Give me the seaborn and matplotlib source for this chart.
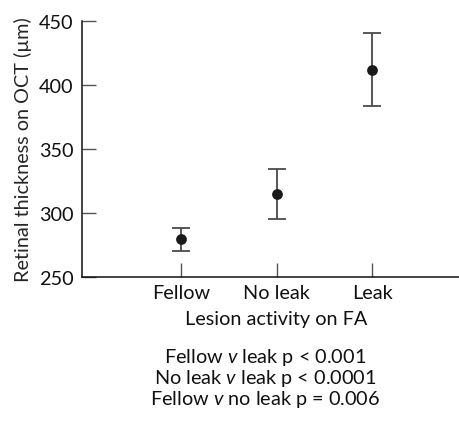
import matplotlib
matplotlib.use("Agg")
import matplotlib.pyplot as plt
import seaborn as sns
import pandas as pd
import numpy as np

categories = ["Fellow", "No leak", "Leak"]
means = [280, 315, 412]
lower = [270.5, 295, 383.5]
upper = [288.5, 334, 440.5]
yticks = [250, 300, 350, 400, 450]
xlabel = "Lesion activity on FA"
ylabel = "Retinal thickness on OCT (µm)"
stats_lines = ["Fellow $\\it{v}$ leak p < 0.001",
               "No leak $\\it{v}$ leak p < 0.0001",
               "Fellow $\\it{v}$ no leak p = 0.006"]

sns.set_theme(style="ticks")
plt.rcParams['font.family'] = ['Lato', 'DejaVu Sans']
plt.rcParams['mathtext.fontset'] = 'custom'
plt.rcParams['mathtext.it'] = 'Lato:italic'
plt.rcParams['mathtext.rm'] = 'Lato'

FS = 14.3

df = pd.DataFrame({"group": categories, "mean": means, "lo": lower, "hi": upper})

fig = plt.figure(figsize=(4.6, 4.27), dpi=100)
ax = fig.add_axes([82/460, 1-278/427, 1-82/460, (278-22)/427])

pos = np.arange(len(categories))
yerr = np.array([df["mean"] - df["lo"], df["hi"] - df["mean"]])
ax.errorbar(pos, df["mean"], yerr=yerr, fmt="none", ecolor="#4a4a4a",
            elinewidth=1.3, capsize=6.5, capthick=1.3, zorder=2)
sns.scatterplot(data=df, x="group", y="mean", ax=ax, color="#1a1a1a",
                s=60, edgecolor="#1a1a1a", linewidth=0, zorder=3)

ax.set_xlim(-1.04, 2.92)
ax.set_ylim(250, 450)
ax.set_yticks(yticks)
ax.set_xticks(pos)
ax.set_xticklabels(categories)
ax.set_xlabel("")
ax.set_ylabel(ylabel, fontsize=FS, labelpad=5)
for side in ["top", "right"]:
    ax.spines[side].set_visible(False)
for side in ["left", "bottom"]:
    ax.spines[side].set_linewidth(1.1)
    ax.spines[side].set_color("#111111")
ax.tick_params(axis="both", direction="in", length=10, width=1.0,
               color="#555555", labelsize=FS, labelcolor="#111111")
ax.tick_params(axis="y", pad=6)
ax.tick_params(axis="x", pad=5)

fig.text(276/460, 1-320/427, xlabel, ha="center", va="center", fontsize=FS, color="#111111")
for i, line in enumerate(stats_lines):
    fig.text(265/460, 1-(357+21.5*i)/427, line, ha="center", va="center",
             fontsize=FS, color="#111111")

fig.savefig("out.png", dpi=100)
